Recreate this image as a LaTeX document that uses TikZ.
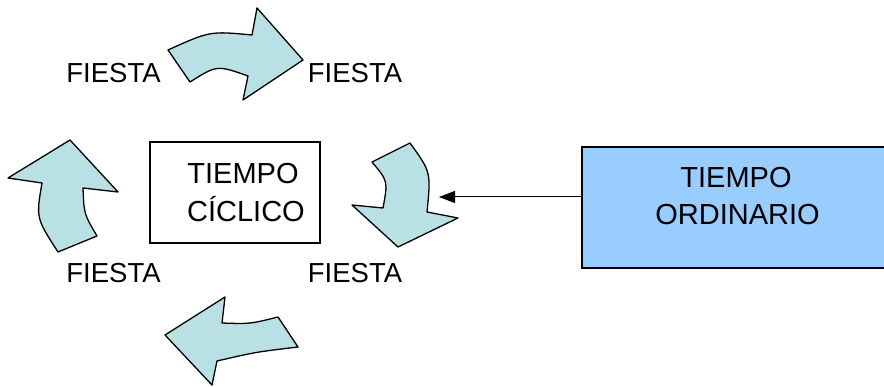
\documentclass[tikz,border=0pt]{standalone}
\usepackage{fontspec}
\setmainfont{Liberation Sans}
\usetikzlibrary{arrows.meta}
\definecolor{arrowfill}{RGB}{185,224,228}
\definecolor{boxblue}{RGB}{153,204,255}
\tikzset{
  blockarrow/.style={draw=black, line width=1.3pt, fill=arrowfill, line join=round},
  label/.style={font=\fontsize{27.5}{33}\selectfont, inner sep=0pt, anchor=base},
  boxline/.style={font=\fontsize{29}{35}\selectfont, inner sep=0pt, anchor=base},
  framebox/.style={draw=black, line width=1.3pt, inner sep=0pt},
  conn/.style={line width=1pt, -{Triangle[length=16pt,width=12pt]}}
}
\begin{document}
\begin{tikzpicture}[x=1pt,y=-1pt]
\useasboundingbox (0,0) rectangle (884,387);
% block arrows
\draw[blockarrow] (168,50) -- (190,82) .. controls (217,65) .. (248,76) -- (243,100) -- (303,60) -- (257,8) -- (252,35) .. controls (210,31) .. (168,50) -- cycle;
\draw[blockarrow] (372,162) -- (410,143) .. controls (431,172) .. (427,212) -- (458,218) -- (398,247) -- (352,205) -- (383,208) .. controls (388,181) .. (372,162) -- cycle;
\draw[blockarrow] (278,317) -- (298,347) .. controls (256,352) .. (217,361) -- (212,385) -- (165,335) -- (225,297) -- (222,323) .. controls (250,324) .. (278,317) -- cycle;
\draw[blockarrow] (70,140) -- (8,178) -- (42,183) .. controls (36,218) .. (58,252) -- (97,236) .. controls (84,214) .. (83,188) -- (118,192) -- cycle;
% labels
\node[label] (f1) at (113.5,83) {FIESTA};
\node[label] (f2) at (355,83) {FIESTA};
\node[label] (f3) at (113.5,283) {FIESTA};
\node[label] (f4) at (355,283) {FIESTA};
% boxes
\node[framebox, minimum width=170pt, minimum height=101pt] (ciclico) at (235,192.5) {};
\node[boxline] (cic1) at (243,184) {TIEMPO};
\node[boxline] (cic2) at (246,222) {CÍCLICO};
\node[framebox, fill=boxblue, minimum width=305pt, minimum height=121pt] (ordin) at (734.5,207.5) {};
\node[boxline] (ord1) at (736,188) {TIEMPO};
\node[boxline] (ord2) at (737.5,225) {ORDINARIO};
\coordinate (cicR) at (439,197);
\coordinate (ordL) at (ordin.west |- cicR);
\draw[conn] (ordL) -- (cicR);
\end{tikzpicture}
\end{document}
